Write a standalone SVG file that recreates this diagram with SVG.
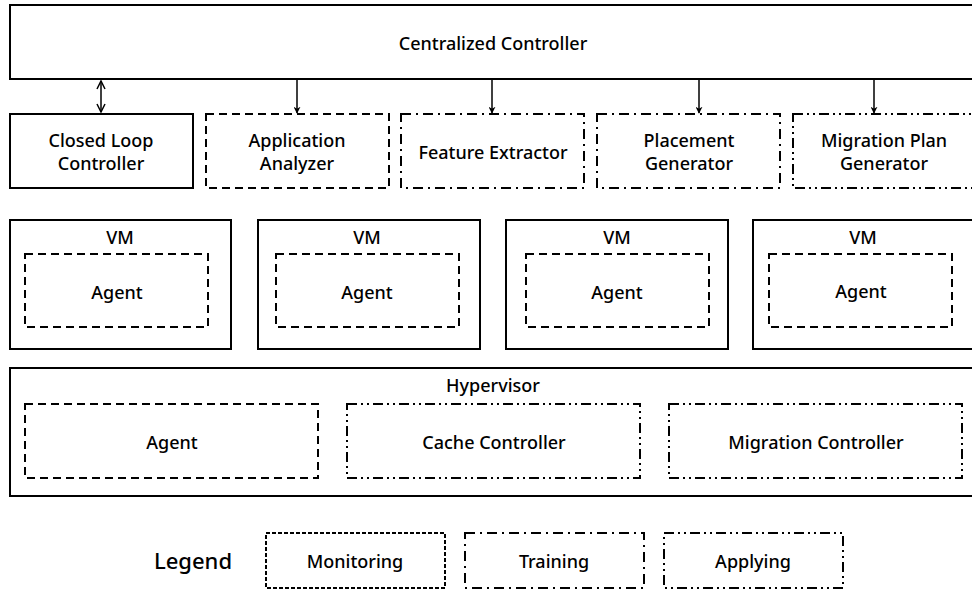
<svg xmlns="http://www.w3.org/2000/svg" width="972" height="590" viewBox="0 0 972 590">
<defs>
<style>
.t{font-family:"Noto Sans","Liberation Sans",sans-serif;font-size:18px;font-weight:500;fill:#000;text-anchor:middle;dominant-baseline:central}
.solid{fill:#fff;stroke:#000;stroke-width:2}
.dash{fill:none;stroke:#000;stroke-width:2;stroke-dasharray:8,5}
.dd{fill:none;stroke:#000;stroke-width:2;stroke-dasharray:10,5,2,5}
.ddd{fill:none;stroke:#000;stroke-width:2;stroke-dasharray:10,4,2,4,2,4}
.fine{fill:none;stroke:#000;stroke-width:2;stroke-dasharray:4,2}
.conn{stroke:#000;stroke-width:1.5;fill:none}
</style>
<marker id="ah" viewBox="0 0 10 10" refX="9" refY="5" markerWidth="7" markerHeight="7" orient="auto-start-reverse" markerUnits="userSpaceOnUse">
<path d="M0,0 L10,5 L0,10 L3,5 Z" fill="#000"/>
</marker>
<marker id="oh" viewBox="0 0 10 10" refX="9" refY="5" markerWidth="10" markerHeight="12" orient="auto-start-reverse" markerUnits="userSpaceOnUse">
<path d="M1,1 L9,5 L1,9" fill="none" stroke="#000" stroke-width="1.5"/>
</marker>
</defs>
<rect width="972" height="590" fill="#fff"/>

<g id="centralized-controller">
<rect class="solid" x="10" y="5" width="975" height="74"/>
<text class="t" x="493" y="43">Centralized Controller</text>
</g>

<g id="closed-loop-controller">
<rect class="solid" x="10" y="114" width="183" height="74"/>
<text class="t" x="101" y="140">Closed Loop</text>
<text class="t" x="101" y="163">Controller</text>
</g>
<g id="application-analyzer">
<rect class="dash" x="206" y="114" width="183" height="74"/>
<text class="t" x="297" y="140">Application</text>
<text class="t" x="297" y="163">Analyzer</text>
</g>
<g id="feature-extractor">
<rect class="dd" x="401" y="114" width="183" height="74"/>
<text class="t" x="493" y="152">Feature Extractor</text>
</g>
<g id="placement-generator">
<rect class="dd" x="597" y="114" width="183" height="74"/>
<text class="t" x="689" y="140">Placement</text>
<text class="t" x="689" y="163">Generator</text>
</g>
<g id="migration-plan-generator">
<rect class="ddd" x="793" y="114" width="190" height="74"/>
<text class="t" x="884" y="140">Migration Plan</text>
<text class="t" x="884" y="163">Generator</text>
</g>

<g id="vm1">
<rect class="solid" x="10" y="220" width="221" height="129"/>
<text class="t" x="120" y="237">VM</text>
<g id="vm1-agent">
<rect class="dash" x="25" y="254" width="183" height="73"/>
<text class="t" x="117" y="292">Agent</text>
</g>
</g>
<g id="vm2">
<rect class="solid" x="258" y="220" width="222" height="129"/>
<text class="t" x="367" y="237">VM</text>
<g id="vm2-agent">
<rect class="dash" x="276" y="254" width="183" height="73"/>
<text class="t" x="367" y="292">Agent</text>
</g>
</g>
<g id="vm3">
<rect class="solid" x="506" y="220" width="222" height="129"/>
<text class="t" x="617" y="237">VM</text>
<g id="vm3-agent">
<rect class="dash" x="526" y="254" width="183" height="73"/>
<text class="t" x="617" y="292">Agent</text>
</g>
</g>
<g id="vm4">
<rect class="solid" x="753" y="220" width="230" height="129"/>
<text class="t" x="863" y="237">VM</text>
<g id="vm4-agent">
<rect class="dash" x="769" y="254" width="183" height="73"/>
<text class="t" x="861" y="291">Agent</text>
</g>
</g>

<g id="hypervisor">
<rect class="solid" x="10" y="368" width="975" height="128"/>
<text class="t" x="493" y="385">Hypervisor</text>
<g id="hv-agent">
<rect class="dash" x="25" y="404" width="293" height="74"/>
<text class="t" x="172" y="442">Agent</text>
</g>
<g id="cache-controller">
<rect class="ddd" x="347" y="404" width="293" height="74"/>
<text class="t" x="494" y="442">Cache Controller</text>
</g>
<g id="migration-controller">
<rect class="ddd" x="669" y="404" width="293" height="74"/>
<text class="t" x="816" y="442">Migration Controller</text>
</g>
</g>

<g id="legend">
<text class="t" x="193" y="560" style="font-size:22px">Legend</text>
<g id="legend-monitoring">
<rect class="fine" x="266" y="533" width="179" height="55"/>
<text class="t" x="355" y="561">Monitoring</text>
</g>
<g id="legend-training">
<rect class="dd" x="465" y="533" width="179" height="55"/>
<text class="t" x="554" y="561">Training</text>
</g>
<g id="legend-applying">
<rect class="ddd" x="664" y="533" width="179" height="55"/>
<text class="t" x="753" y="561">Applying</text>
</g>
</g>

<g id="connectors">
<line class="conn" x1="101" y1="81" x2="101" y2="112" marker-start="url(#oh)" marker-end="url(#oh)"/>
<line class="conn" x1="297" y1="79" x2="297" y2="113" marker-end="url(#ah)"/>
<line class="conn" x1="492" y1="79" x2="492" y2="113" marker-end="url(#ah)"/>
<line class="conn" x1="699" y1="79" x2="699" y2="113" marker-end="url(#ah)"/>
<line class="conn" x1="874" y1="79" x2="874" y2="113" marker-end="url(#ah)"/>
</g>
</svg>
